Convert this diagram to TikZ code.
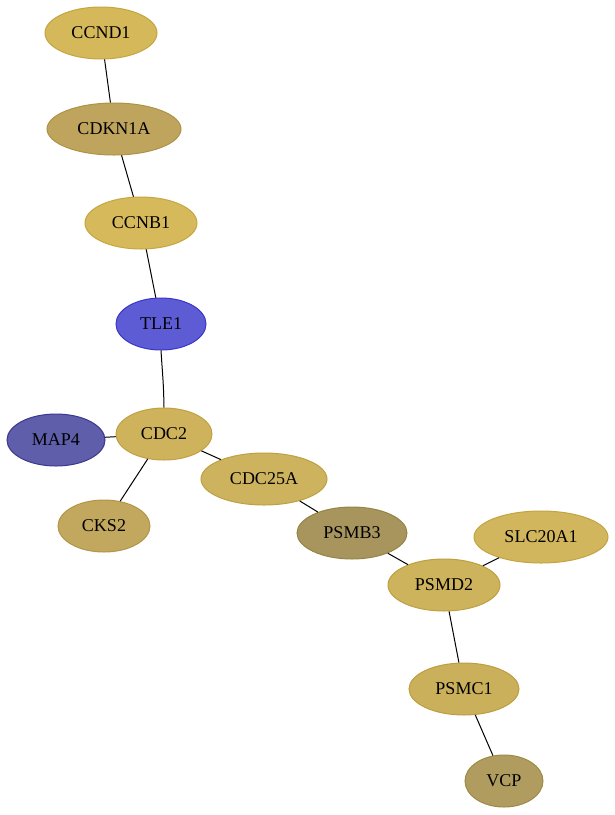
\documentclass[tikz,border=0pt]{standalone}
\usepackage{fontspec}
\setmainfont{Liberation Serif}
\usetikzlibrary{shapes.geometric}
\definecolor{cCCND}{HTML}{D4B85A}\definecolor{bCCND}{HTML}{C4A640}
\definecolor{cCDKN}{HTML}{BFA45E}\definecolor{bCDKN}{HTML}{AE9245}
\definecolor{cCCNB}{HTML}{D6B95B}\definecolor{bCCNB}{HTML}{C6A640}
\definecolor{cTLE}{HTML}{5E5CD4}\definecolor{bTLE}{HTML}{3A36C8}
\definecolor{cMAP}{HTML}{5F5EAA}\definecolor{bMAP}{HTML}{3A3890}
\definecolor{cCDC}{HTML}{CFB35C}\definecolor{bCDC}{HTML}{C0A040}
\definecolor{cCDCA}{HTML}{CEB35F}\definecolor{bCDCA}{HTML}{BEA043}
\definecolor{cCKS}{HTML}{C2A85E}\definecolor{bCKS}{HTML}{B29545}
\definecolor{cPSMB}{HTML}{A8955E}\definecolor{bPSMB}{HTML}{978348}
\definecolor{cSLC}{HTML}{D2B65D}\definecolor{bSLC}{HTML}{C4A440}
\definecolor{cPSMD}{HTML}{CEB35D}\definecolor{bPSMD}{HTML}{BEA040}
\definecolor{cPSMC}{HTML}{CBB05C}\definecolor{bPSMC}{HTML}{BC9E40}
\definecolor{cVCP}{HTML}{B09C5E}\definecolor{bVCP}{HTML}{9E8A48}
\begin{document}
\begin{tikzpicture}[x=1pt,y=-1pt,
  gene/.style={ellipse, inner sep=0pt, minimum height=52pt, line width=1pt, font=\fontsize{18}{21}\selectfont},
  edge/.style={draw=black, line width=1pt}]
\useasboundingbox (0,0) rectangle (615,815);
\node[gene, fill=cCCND, draw=bCCND, minimum width=112pt] (ccnd1) at (101,33) {CCND1};
\node[gene, fill=cCDKN, draw=bCDKN, minimum width=134pt] (cdkn1a) at (114,129) {CDKN1A};
\node[gene, fill=cCCNB, draw=bCCNB, minimum width=112pt] (ccnb1) at (141,223) {CCNB1};
\node[gene, fill=cTLE, draw=bTLE, minimum width=90pt] (tle1) at (161,324) {TLE1};
\node[gene, fill=cCDC, draw=bCDC, minimum width=96pt] (cdc2) at (164,434) {CDC2};
\node[gene, fill=cMAP, draw=bMAP, minimum width=98pt] (map4) at (56,440) {MAP4};
\node[gene, fill=cCKS, draw=bCKS, minimum width=92pt] (cks2) at (104,526) {CKS2};
\node[gene, fill=cCDCA, draw=bCDCA, minimum width=126pt] (cdc25a) at (264,479) {CDC25A};
\node[gene, fill=cPSMB, draw=bPSMB, minimum width=110pt] (psmb3) at (352,533) {PSMB3};
\node[gene, fill=cSLC, draw=bSLC, minimum width=134pt] (slc20a1) at (541,537) {SLC20A1};
\node[gene, fill=cPSMD, draw=bPSMD, minimum width=112pt] (psmd2) at (444,585) {PSMD2};
\node[gene, fill=cPSMC, draw=bPSMC, minimum width=110pt] (psmc1) at (464,689) {PSMC1};
\node[gene, fill=cVCP, draw=bVCP, minimum width=78pt] (vcp) at (504,781) {VCP};
\draw[edge] (ccnd1) -- (cdkn1a);
\draw[edge] (cdkn1a) -- (ccnb1);
\draw[edge] (ccnb1) -- (tle1);
\draw[edge] (tle1.south) .. controls (162.5,375) and (163.5,380) .. (cdc2.north);
\draw[edge] (cdc2) -- (map4);
\draw[edge] (cdc2) -- (cks2);
\draw[edge] (cdc2) -- (cdc25a);
\draw[edge] (cdc25a) -- (psmb3);
\draw[edge] (psmb3) -- (psmd2);
\draw[edge] (slc20a1) -- (psmd2);
\draw[edge] (psmd2) -- (psmc1);
\draw[edge] (psmc1) -- (vcp);
\end{tikzpicture}
\end{document}
